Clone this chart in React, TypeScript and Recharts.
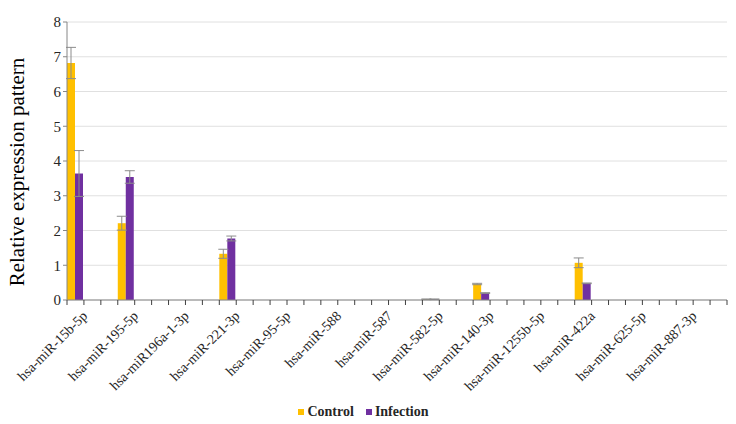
import React from 'react';
import { BarChart, Bar, XAxis, YAxis, CartesianGrid, Legend, ErrorBar } from 'recharts';

const mirnas = [
  'hsa-miR-15b-5p', 'hsa-miR-195-5p', 'hsa-miR196a-1-3p', 'hsa-miR-221-3p', 'hsa-miR-95-5p',
  'hsa-miR-588', 'hsa-miR-587', 'hsa-miR-582-5p', 'hsa-miR-140-3p', 'hsa-miR-1255b-5p',
  'hsa-miR-422a', 'hsa-miR-625-5p', 'hsa-miR-887-3p',
];
const control = [6.82, 2.21, 0, 1.33, 0, 0, 0, 0.02, 0.46, 0, 1.07, 0, 0];
const controlErr = [0.45, 0.2, 0, 0.13, 0, 0, 0, 0.01, 0.02, 0, 0.14, 0, 0];
const infection = [3.64, 3.54, 0, 1.77, 0, 0, 0, 0.02, 0.2, 0, 0.48, 0, 0];
const infectionErr = [0.66, 0.18, 0, 0.07, 0, 0, 0, 0.01, 0.01, 0, 0.01, 0, 0];
const yTicks = [0, 1, 2, 3, 4, 5, 6, 7, 8];

// every miRNA is followed by two empty slots (like the excel sheet)
const data: any[] = [];
mirnas.forEach((m, i) => {
  data.push({ key: m, label: m, control: control[i], infection: infection[i], cErr: controlErr[i], iErr: infectionErr[i] });
  data.push({ key: m + '_a', label: '' });
  data.push({ key: m + '_b', label: '' });
});

const LEFT = 67;
const RIGHT = 727;
const SLOT = (RIGHT - LEFT) / data.length;
const FONT = '"Liberation Serif", "Times New Roman", serif';

const XTick = (props: any) => {
  const { x, y, payload } = props;
  const row = data[payload.index];
  const isLast = payload.index === data.length - 1;
  const ax = x + 6;
  const ay = y + 2;
  return (
    <g>
      <line x1={x - SLOT / 2} y1={y - 8} x2={x - SLOT / 2} y2={y - 3} stroke="#404040" />
      {isLast && <line x1={x + SLOT / 2} y1={y - 8} x2={x + SLOT / 2} y2={y - 3} stroke="#404040" />}
      {row.label && (
        <text x={ax} y={ay} transform={`rotate(-45 ${ax} ${ay})`} textAnchor="end" dominantBaseline="hanging"
          fontFamily={FONT} fontSize={14} fill="#262626">
          {row.label}
        </text>
      )}
    </g>
  );
};

const YLabel = () => (
  <text x={24} y={172} transform="rotate(-90 24 172)" textAnchor="middle"
    fontFamily={FONT} fontSize={21} fill="#000">
    Relative  expression pattern
  </text>
);

const LegendContent = () => (
  <div style={{ display: 'flex', justifyContent: 'center', fontFamily: FONT, fontWeight: 'bold', fontSize: 14, color: '#262626', paddingTop: 4 }}>
    <span style={{ display: 'flex', alignItems: 'center', marginRight: 12, fontFamily: FONT }}>
      <span style={{ width: 6, height: 6, background: '#FFC000', marginRight: 3 }} />Control
    </span>
    <span style={{ display: 'flex', alignItems: 'center', fontFamily: FONT }}>
      <span style={{ width: 6, height: 6, background: '#7030A0', marginRight: 3 }} />Infection
    </span>
  </div>
);

const App = () => {
  return (
    <div style={{ position: 'absolute', left: 0, top: 0, background: '#fff', fontFamily: FONT }}>
      <BarChart width={736} height={424} data={data} barCategoryGap={0} barGap={0}
        margin={{ top: 22, right: 9, left: 0, bottom: 0 }}>
        <CartesianGrid vertical={false} stroke="#e0e0e0" />
        <XAxis dataKey="key" interval={0} height={100} tick={<XTick />} tickLine={false}
          axisLine={{ stroke: '#868686' }} />
        <YAxis domain={[0, 8]} ticks={yTicks} width={67} tickSize={4} tickLine={{ stroke: '#868686' }}
          axisLine={{ stroke: '#868686' }} tick={{ fontFamily: FONT, fontSize: 15, fill: '#262626' }}
          label={<YLabel />} />
        <Legend verticalAlign="bottom" height={24} content={<LegendContent />} />
        <Bar dataKey="control" name="Control" fill="#FFC000" isAnimationActive={false}>
          <ErrorBar dataKey="cErr" width={5} stroke="#8c8c8c" strokeWidth={1} />
        </Bar>
        <Bar dataKey="infection" name="Infection" fill="#7030A0" isAnimationActive={false}>
          <ErrorBar dataKey="iErr" width={5} stroke="#8c8c8c" strokeWidth={1} />
        </Bar>
      </BarChart>
    </div>
  );
};

export default App;
